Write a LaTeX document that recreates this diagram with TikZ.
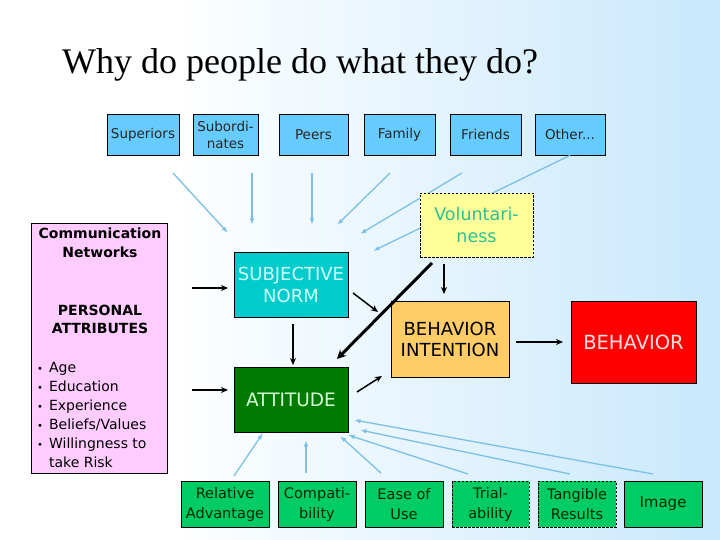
\documentclass[tikz,border=0pt]{standalone}
\usepackage{fontspec}
\setmainfont{DejaVu Sans}
\newfontfamily\titlefont{Liberation Serif}
\usetikzlibrary{arrows.meta}
\definecolor{bgblue}{RGB}{200,232,252}
\definecolor{topfill}{RGB}{102,204,255}
\definecolor{snfill}{RGB}{0,204,204}
\definecolor{sntext}{RGB}{210,255,255}
\definecolor{attfill}{RGB}{0,122,0}
\definecolor{atttext}{RGB}{215,255,215}
\definecolor{bifill}{RGB}{255,204,102}
\definecolor{behfill}{RGB}{255,0,0}
\definecolor{behtext}{RGB}{255,225,225}
\definecolor{volfill}{RGB}{255,255,153}
\definecolor{voltext}{RGB}{45,190,150}
\definecolor{botfill}{RGB}{0,204,102}
\definecolor{bottext}{RGB}{0,40,0}
\definecolor{pinkfill}{RGB}{255,204,255}
\definecolor{arrblue}{RGB}{125,192,228}
\newcommand{\fs}[2]{\fontsize{#1}{#2}\selectfont}
\newcommand{\bul}{{\fs{10}{19}•}\hspace{6pt}}
\tikzset{
  rbox/.style={draw=black, line width=0.8pt, inner sep=0pt, align=center},
  topbox/.style={rbox, fill=topfill, text=black!85, font=\fs{13.5}{17}, minimum height=41pt},
  botbox/.style={rbox, fill=botfill, text=bottext, font=\fs{14.5}{20}, minimum height=46pt, minimum width=78pt},
  bluearr/.style={draw=arrblue, line width=1.3pt, -{Latex[length=6.5pt,width=4.5pt]}},
  blackarr/.style={draw=black, line width=1.5pt, -{Stealth[length=7pt,width=6pt]}},
  dashbox/.style={dash pattern=on 2.5pt off 1.5pt},
}
\begin{document}
\begin{tikzpicture}[x=1pt,y=-1pt]
\useasboundingbox (0,0) rectangle (720,540);
\fill[white] (0,0) rectangle (720,540);
\shade[left color=white,right color=bgblue] (170,0) rectangle (720,540);

% title
\node[anchor=base west, inner sep=0pt, font=\titlefont\fs{36}{40}] (title) at (62,74) {Why do people do what they do?};

% top row
\node[topbox, minimum width=72pt] (sup) at (143,134.5) {Superiors};
\node[topbox, minimum width=65pt] (sub) at (225.5,134.5) {Subordi-\\nates};
\node[topbox, minimum width=69pt] (peer) at (313.5,134.5) {Peers};
\node[topbox, minimum width=71pt] (fam) at (399.5,134.5) {Family};
\node[topbox, minimum width=71pt] (fri) at (485.5,134.5) {Friends};
\node[topbox, minimum width=70pt] (oth) at (570,134.5) {Other...};

% coordinates of free ends
\coordinate (b1s) at (173,173); \coordinate (b1e) at (228,233);
\coordinate (b2s) at (252,173); \coordinate (b2e) at (252,225);
\coordinate (b3s) at (312,173); \coordinate (b3e) at (312,225);
\coordinate (b4s) at (390,173); \coordinate (b4e) at (337,225);
\coordinate (b5s) at (462,173); \coordinate (b5e) at (360,234);
\coordinate (b6e) at (373,251);

\draw[bluearr] (b1s) -- (b1e);
\draw[bluearr] (b2s) -- (b2e);
\draw[bluearr] (b3s) -- (b3e);
\draw[bluearr] (b4s) -- (b4e);
\draw[bluearr] (b5s) -- (b5e);
\draw[bluearr] (oth.south) -- (b6e);

% voluntariness
\node[rbox, dashbox, fill=volfill, text=voltext, font=\fs{17.5}{22}, minimum width=113pt, minimum height=64pt] (vol) at (476.5,225) {Voluntari-\\ness};

% pink box
\node[draw=black, line width=0.8pt, fill=pinkfill, minimum width=136pt, minimum height=250pt, inner sep=0pt] (pink) at (99,348) {};
\node[font=\bfseries\fs{14}{19}, align=center, inner sep=0pt] (comm) at (100,242.5) {Communication\\Networks};
\node[font=\bfseries\fs{14}{18}, align=center, inner sep=0pt] (pers) at (100,319) {PERSONAL\\ATTRIBUTES};
\node[font=\fs{14}{19}, align=left, anchor=north west, inner sep=0pt] (bullets) at (37,362.5) {%
\bul Age\\
\bul Education\\
\bul Experience\\
\bul Beliefs/Values\\
\bul Willingness to\\
\hphantom{\bul}take Risk};

% main boxes
\node[rbox, fill=snfill, text=sntext, font=\fs{18}{22}, minimum width=114pt, minimum height=65pt] (sn) at (291,284.5) {SUBJECTIVE\\NORM};
\node[rbox, fill=attfill, text=atttext, font=\fs{18.5}{22}, minimum width=114pt, minimum height=65pt] (att) at (291,399.5) {ATTITUDE};
\node[rbox, fill=bifill, text=black, font=\fs{18}{21}, minimum width=118pt, minimum height=76pt] (bi) at (450,339) {BEHAVIOR\\INTENTION};
\node[rbox, fill=behfill, text=behtext, font=\fs{19.5}{22}, minimum width=125pt, minimum height=82pt] (beh) at (633.5,342) {BEHAVIOR};

% black arrows
\coordinate (k1s) at (192,288); \coordinate (k1e) at (228,288);
\coordinate (k2s) at (192,390); \coordinate (k2e) at (228,390);
\coordinate (k3s) at (293,324); \coordinate (k3e) at (293,365);
\coordinate (k4s) at (353,293); \coordinate (k4e) at (378,312);
\coordinate (k5s) at (432,263); \coordinate (k5e) at (337,359);
\coordinate (k6s) at (444,264); \coordinate (k6e) at (444,294);
\coordinate (k7s) at (357,392); \coordinate (k7e) at (382,376);
\coordinate (k8s) at (516,342); \coordinate (k8e) at (563,342);
\draw[blackarr] (k1s) -- (k1e);
\draw[blackarr] (k2s) -- (k2e);
\draw[blackarr] (k3s) -- (k3e);
\draw[blackarr] (k4s) -- (k4e);
\draw[blackarr, line width=3pt, -{Stealth[length=9pt,width=9pt]}] (k5s) -- (k5e);
\draw[blackarr] (k6s) -- (k6e);
\draw[blackarr] (k7s) -- (k7e);
\draw[blackarr] (k8s) -- (k8e);

% bottom row
\node[botbox, minimum width=88pt] (ra) at (225,504) {Relative\\Advantage};
\node[botbox] (comp) at (317,504) {Compati-\\bility};
\node[botbox] (ease) at (404,504) {Ease of\\Use};
\node[botbox, dashbox, minimum width=77pt] (tria) at (490.5,504) {Trial-\\ability};
\node[botbox, dashbox] (tang) at (577,504) {Tangible\\Results};
\node[botbox, font=\fs{15}{20}] (img) at (663,504) {Image};

% blue arrows bottom
\coordinate (c1s) at (234,476); \coordinate (c1e) at (263,433);
\coordinate (c2s) at (306,473); \coordinate (c2e) at (306,440);
\coordinate (c3s) at (381,473); \coordinate (c3e) at (340,436);
\coordinate (c4s) at (468,474); \coordinate (c4e) at (348,435);
\coordinate (c5s) at (570,474); \coordinate (c5e) at (360,430);
\coordinate (c6s) at (653,474); \coordinate (c6e) at (354,420);
\draw[bluearr] (c1s) -- (c1e);
\draw[bluearr] (c2s) -- (c2e);
\draw[bluearr] (c3s) -- (c3e);
\draw[bluearr] (c4s) -- (c4e);
\draw[bluearr] (c5s) -- (c5e);
\draw[bluearr] (c6s) -- (c6e);
\end{tikzpicture}
\end{document}
